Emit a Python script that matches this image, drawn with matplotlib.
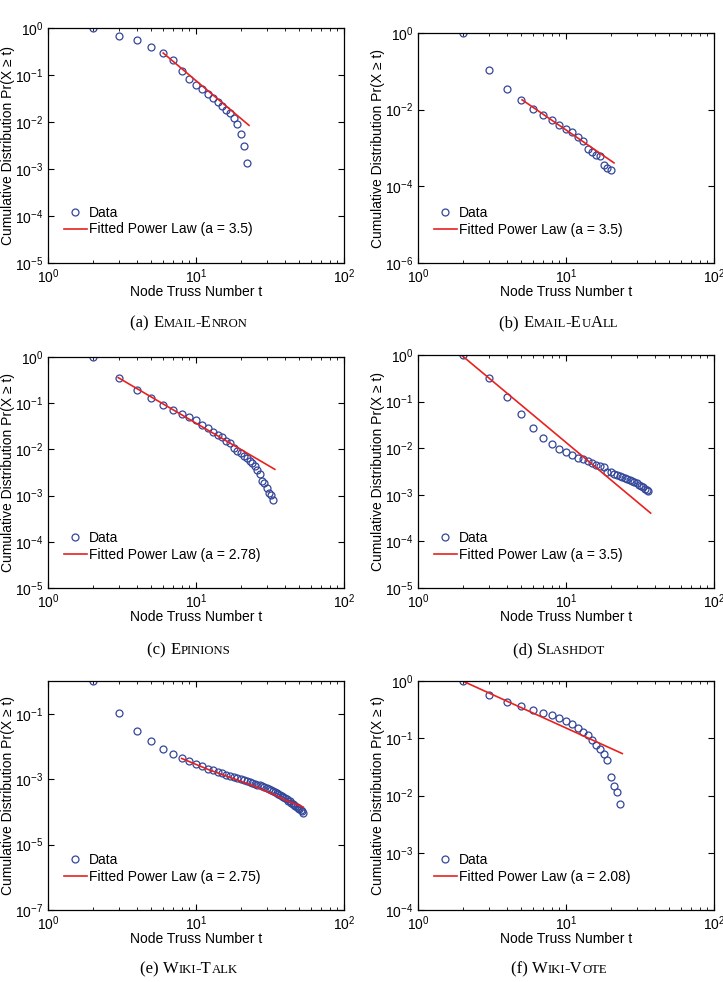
import matplotlib
matplotlib.use("Agg")
import matplotlib.pyplot as plt
from matplotlib.ticker import NullLocator
from matplotlib.offsetbox import TextArea, HPacker, AnnotationBbox

plt.rcParams['font.family'] = ['Liberation Sans', 'DejaVu Sans']
plt.rcParams['mathtext.fontset'] = 'custom'
plt.rcParams['mathtext.rm'] = 'Liberation Sans'
plt.rcParams['mathtext.it'] = 'Liberation Sans:italic'
plt.rcParams['mathtext.bf'] = 'Liberation Sans:bold'
plt.rcParams['font.size'] = 10

# ---- data ----
# (a) Email-Enron
enron_t = [2, 3, 4, 5, 6, 7, 8, 9, 10, 11, 12, 13, 14, 15, 16, 17, 18, 19, 20, 21, 22]
enron_p = [1.0, 0.665, 0.565, 0.40, 0.289, 0.205, 0.12, 0.082, 0.062, 0.0495, 0.0394,
           0.033, 0.0267, 0.0219, 0.0183, 0.0153, 0.0124, 0.00906, 0.00556, 0.00313, 0.00132]
enron_fit_t = [6.0, 22.8]
enron_fit_p = [0.294, 0.0085]

# (b) Email-EuAll
euall_t = [2, 3, 4, 5, 6, 7, 8, 9, 10, 11, 12, 13, 14, 15, 16, 17, 18, 19, 20]
euall_p = [1.0, 0.110, 0.0344, 0.0177, 0.0105, 0.00705, 0.00522, 0.0041, 0.00316, 0.00254,
           0.00188, 0.00151, 0.00095, 0.00078, 0.000675, 0.00061, 0.000362, 0.000296, 0.000268]
euall_fit_t = [5.05, 21.1]
euall_fit_p = [0.0181, 0.000409]

# (c) Epinions
epin_t = [2, 3, 4, 5, 6, 7, 8, 9, 10, 11, 12, 13, 14, 15, 16, 17, 18, 19, 20, 21, 22,
          23, 24, 25, 26, 27, 28, 29, 30, 31, 32, 33]
epin_p = [1.0, 0.358, 0.194, 0.128, 0.092, 0.0718, 0.0589, 0.0499, 0.0423, 0.034, 0.0289,
          0.024, 0.0204, 0.0182, 0.0154, 0.0135, 0.0109, 0.0092, 0.0082, 0.0073, 0.0064,
          0.0057, 0.005, 0.00444, 0.00358, 0.00294, 0.00211, 0.00185, 0.00144, 0.00116,
          0.00103, 0.00081]
epin_fit_t = [2.98, 34.1]
epin_fit_p = [0.358, 0.0037]

# (d) Slashdot
slash_t = [2, 3, 4, 5, 6, 7, 8, 9, 10, 11, 12, 13, 14, 15, 16, 17, 18, 19, 20, 21, 22,
           23, 24, 25, 26, 27, 28, 29, 30, 31, 32, 33, 34, 35, 36]
slash_p = [1.0, 0.327, 0.124, 0.0544, 0.0273, 0.0169, 0.0122, 0.00952, 0.0082, 0.0073,
           0.0063, 0.0059, 0.00526, 0.00477, 0.0044, 0.00425, 0.00398, 0.00316, 0.00301,
           0.00282, 0.00268, 0.00255, 0.00239, 0.00228, 0.00217, 0.00206, 0.00196, 0.00187,
           0.00178, 0.00166, 0.00153, 0.00144, 0.00134, 0.00126, 0.00118]
slash_fit_t = [2.0, 37.3]
slash_fit_p = [0.95, 0.000405]

# (e) Wiki-Talk
talk_t = [2, 3, 4, 5, 6, 7, 8, 9, 10, 11, 12, 13, 14, 15, 16, 17, 18, 19, 20, 21, 22,
          23, 24, 25, 26, 27, 28, 29, 30, 31, 32, 33, 34, 35, 36, 37, 38, 39, 40, 41, 42,
          43, 44, 45, 46, 47, 48, 49, 50, 51, 52, 53]
talk_p = [1.0, 0.108, 0.0298, 0.0148, 0.0086, 0.0059, 0.0044, 0.0035, 0.0029, 0.0025,
          0.0021, 0.0019, 0.0017, 0.0015, 0.00136, 0.00125, 0.00115, 0.00106, 0.00098,
          0.00092, 0.00086, 0.00081, 0.00076, 0.00072, 0.00068, 0.00064, 0.00060, 0.00056,
          0.00052, 0.00049, 0.00046, 0.00043, 0.00040, 0.00037, 0.00035, 0.00033, 0.00030,
          0.00028, 0.00026, 0.00024, 0.00022, 0.00021, 0.00019, 0.00018, 0.000165,
          0.000155, 0.000145, 0.000135, 0.000125, 0.000115, 0.000105, 0.000095]
talk_fit_t = [8, 12, 16, 20, 25, 30, 35, 40, 45, 50, 53]
talk_fit_p = [0.0043, 0.0020, 0.00125, 0.00087, 0.00060, 0.00042, 0.00031, 0.00023,
              0.000185, 0.00016, 0.00014]

# (f) Wiki-Vote
vote_t = [2, 3, 4, 5, 6, 7, 8, 9, 10, 11, 12, 13, 14, 15, 16, 17, 18, 19, 20, 21, 22, 23]
vote_p = [1.0, 0.562, 0.436, 0.366, 0.316, 0.28, 0.252, 0.223, 0.2, 0.175, 0.149, 0.129,
          0.113, 0.0923, 0.0776, 0.0652, 0.0533, 0.0419, 0.0214, 0.0149, 0.0114, 0.00706]
vote_fit_t = [2.0, 24.0]
vote_fit_p = [1.0, 0.054]

panels = [
    ('(a)', 'Email-Enron', enron_t, enron_p, enron_fit_t, enron_fit_p, '3.5', -5, 1),
    ('(b)', 'Email-EuAll', euall_t, euall_p, euall_fit_t, euall_fit_p, '3.5', -6, 2),
    ('(c)', 'Epinions', epin_t, epin_p, epin_fit_t, epin_fit_p, '2.78', -5, 1),
    ('(d)', 'Slashdot', slash_t, slash_p, slash_fit_t, slash_fit_p, '3.5', -5, 1),
    ('(e)', 'Wiki-Talk', talk_t, talk_p, talk_fit_t, talk_fit_p, '2.75', -7, 2),
    ('(f)', 'Wiki-Vote', vote_t, vote_p, vote_fit_t, vote_fit_p, '2.08', -4, 1),
]

# axes boxes in pixels: left, top, right, bottom
W, H = 723, 982
boxes = [(48, 28, 344, 263), (418, 33, 714, 263),
         (48, 357, 344, 588), (418, 355, 714, 588),
         (48, 681, 344, 910), (418, 681, 714, 910)]
caption_y = [323, 323, 650, 650, 969, 969]

fig = plt.figure(figsize=(W / 100, H / 100), dpi=100)

def small_caps(x, y, label, name):
    runs = []
    for ch in name:
        small = ch.islower()
        if runs and runs[-1][1] == small:
            runs[-1][0] += ch.upper()
        else:
            runs.append([ch.upper(), small])
    kids = [TextArea(label + '\u00a0', textprops=dict(size=12, family='Liberation Serif'))]
    for txt, small in runs:
        kids.append(TextArea(txt, textprops=dict(size=9.2 if small else 12,
                                                 family='Liberation Serif')))
    pack = HPacker(children=kids, align='baseline', pad=0, sep=0)
    ab = AnnotationBbox(pack, (x, y), xycoords='figure fraction', frameon=False,
                        box_alignment=(0.5, 0.5), pad=0)
    fig.add_artist(ab)

for i, (lab, name, t, p, ft, fp, a, ylo, ystep) in enumerate(panels):
    l, tp, r, b = boxes[i]
    ax = fig.add_axes([l / W, 1 - b / H, (r - l) / W, (b - tp) / H])
    ax.loglog(t, p, 'o', mfc='none', mec='#34469a', ms=5, mew=0.9, label='Data')
    ax.loglog(ft, fp, '-', color='#e8211f', lw=1.2, label='Fitted Power Law (a = %s)' % a)
    ax.set_xlim(1, 100)
    ax.set_ylim(10.0 ** ylo, 1)
    ax.set_yticks([10.0 ** k for k in range(ylo, 1, ystep)])
    ax.yaxis.set_minor_locator(NullLocator())
    ax.tick_params(which='both', direction='in', top=True, right=True)
    ax.tick_params(which='major', length=4, width=0.8)
    ax.tick_params(which='minor', length=2, width=0.6)
    for s in ax.spines.values():
        s.set_linewidth(0.9)
    ax.set_xlabel('Node Truss Number t', labelpad=-1)
    ax.set_ylabel('Cumulative Distribution Pr(X \u2265 t)')
    ax.yaxis.set_label_coords(-0.113, 0.5)
    ax.legend(loc='lower left', bbox_to_anchor=(0.055, 0.113), frameon=False, numpoints=1,
              handlelength=1.6, handletextpad=0.15, labelspacing=0.2, borderaxespad=0,
              borderpad=0)
    small_caps((l + r) / 2 / W - 0.01, 1 - caption_y[i] / H, lab, name)

fig.savefig('out.png', dpi=100)
